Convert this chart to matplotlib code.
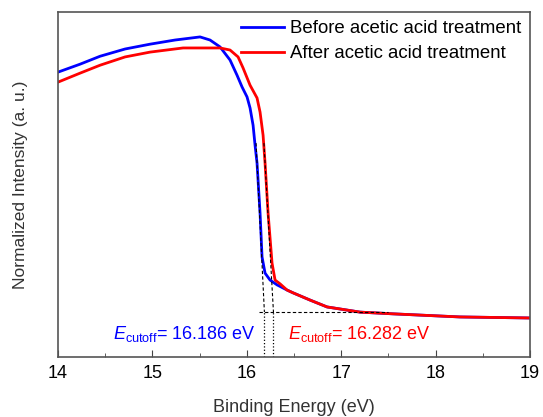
import numpy as np
import matplotlib.pyplot as plt

plt.rcParams['font.family'] = ['Liberation Sans', 'DejaVu Sans']
plt.rcParams['mathtext.fontset'] = 'custom'
plt.rcParams['mathtext.rm'] = 'Liberation Sans'
plt.rcParams['mathtext.it'] = 'Liberation Sans:italic'

# binding energy (eV) and normalized intensity
be_before = [14.0, 14.233, 14.445, 14.710, 14.975, 15.239, 15.504, 15.610, 15.716, 15.822,
             15.896, 15.949, 16.002, 16.034, 16.066, 16.087, 16.108, 16.140, 16.161, 16.193,
             16.246, 16.320, 16.426, 16.489, 16.669, 16.850, 17.199, 17.549, 18.258, 19.0]
int_before = [0.826, 0.849, 0.872, 0.893, 0.907, 0.919, 0.928, 0.919, 0.899, 0.861,
              0.817, 0.783, 0.754, 0.722, 0.672, 0.614, 0.562, 0.417, 0.290, 0.243,
              0.223, 0.209, 0.194, 0.186, 0.165, 0.145, 0.130, 0.125, 0.116, 0.113]

be_after = [14.0, 14.233, 14.445, 14.710, 14.975, 15.324, 15.716, 15.822, 15.907, 15.960,
            16.034, 16.108, 16.140, 16.172, 16.193, 16.225, 16.267, 16.299, 16.352, 16.426,
            16.489, 16.669, 16.850, 17.199, 17.549, 18.258, 19.0]
int_after = [0.797, 0.823, 0.846, 0.870, 0.884, 0.896, 0.896, 0.890, 0.870, 0.838,
             0.788, 0.751, 0.710, 0.643, 0.562, 0.417, 0.272, 0.223, 0.212, 0.194,
             0.186, 0.165, 0.145, 0.130, 0.125, 0.116, 0.113]

cutoffs = [16.186, 16.282]
slopes = [-5.54, -4.85]      # slope of the leading edge tangent
baseline = 0.130
colors = ['#0000ff', '#ff0000']
labels = ['Before acetic acid treatment', 'After acetic acid treatment']

fig, ax = plt.subplots(figsize=(5.43, 4.17), dpi=100)
fig.subplots_adjust(left=0.107, right=0.976, top=0.971, bottom=0.144)

ax.plot(be_before, int_before, color=colors[0], lw=2, label=labels[0])
ax.plot(be_after, int_after, color=colors[1], lw=2, label=labels[1])

# tangent lines, baseline and cutoff markers
for ec, s in zip(cutoffs, slopes):
    ys = np.array([0.62, baseline])
    xs = ec + (ys - baseline) / s
    ax.plot(xs, ys, 'k--', lw=0.8, dashes=(3, 2))
    ax.plot([ec, ec], [0, baseline], 'k:', lw=0.9)
ax.plot([16.13, 17.5], [baseline, baseline], 'k--', lw=0.8, dashes=(3, 2))

ax.text(16.09, 0.068, r'$\mathit{E}_{\mathrm{cutoff}}$= 16.186 eV', color=colors[0],
        fontsize=13, ha='right', va='center')
ax.text(16.435, 0.068, r'$\mathit{E}_{\mathrm{cutoff}}$= 16.282 eV', color=colors[1],
        fontsize=13, ha='left', va='center')

ax.set_xlim(14, 19)
ax.set_ylim(0, 1)
ax.set_xticks([14, 15, 16, 17, 18, 19])
ax.set_xticks(np.arange(14.5, 19, 1), minor=True)
ax.set_yticks([])
ax.tick_params(axis='x', which='both', direction='in', labelsize=13, pad=6, color='#444444')
ax.tick_params(axis='x', which='major', length=5)
ax.tick_params(axis='x', which='minor', length=3)
for sp in ax.spines.values():
    sp.set_color('#555555')
    sp.set_linewidth(1.2)

ax.set_xlabel('Binding Energy (eV)', fontsize=13, color='#333333', labelpad=12)
ax.set_ylabel('Normalized Intensity (a. u.)', fontsize=12.5, color='#333333', labelpad=22)

ax.legend(loc='upper right', frameon=False, fontsize=13.4, handlelength=2.3,
          borderaxespad=0.15, labelspacing=0.42, handletextpad=0.35,
          borderpad=0.3)

fig.savefig('out.png')
